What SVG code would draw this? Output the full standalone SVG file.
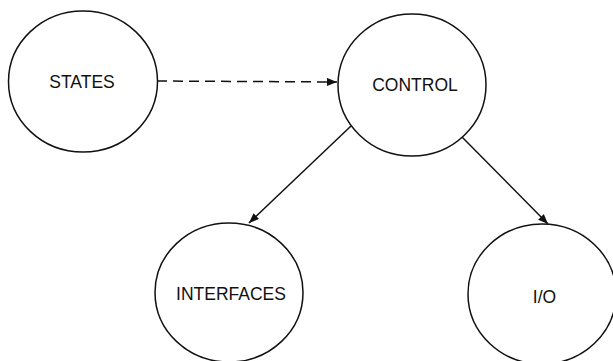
<svg xmlns="http://www.w3.org/2000/svg" width="613" height="361" viewBox="0 0 613 361">
  <style>
    .node ellipse { fill: #fff; stroke: #111; stroke-width: 1.5; }
    .node text { font-family: "Liberation Sans", Arial, sans-serif; font-size: 17.5px; fill: #111; text-anchor: middle; }
    .edge { fill: none; stroke: #111; stroke-width: 1.5; }
    .dashed { stroke-dasharray: 10 6; }
  </style>
  <defs>
    <marker id="arrow" viewBox="0 0 10 8" refX="10" refY="4" markerWidth="10" markerHeight="8" markerUnits="userSpaceOnUse" orient="auto">
      <path d="M0,0 L10,4 L0,8 Z" fill="#111"/>
    </marker>
  </defs>
  <rect width="613" height="361" fill="#fff"/>

  <g id="connectors">
    <line class="edge" x1="157" y1="76" x2="157" y2="86"/>
    <path class="edge dashed" d="M157,81 L337,82" marker-end="url(#arrow)"/>
    <path class="edge" d="M351,126 L249,223" marker-end="url(#arrow)"/>
    <path class="edge" d="M462,137 L548,224" marker-end="url(#arrow)"/>
  </g>

  <g id="states" class="node">
    <ellipse cx="83" cy="81.5" rx="74.5" ry="70.5"/>
    <text x="82" y="88">STATES</text>
  </g>
  <g id="control" class="node">
    <ellipse cx="412" cy="85" rx="74" ry="71"/>
    <text x="415" y="91">CONTROL</text>
  </g>
  <g id="interfaces" class="node">
    <ellipse cx="229" cy="292.5" rx="74" ry="69.5"/>
    <text x="231" y="300">INTERFACES</text>
  </g>
  <g id="io" class="node">
    <ellipse cx="542" cy="294" rx="74" ry="70"/>
    <text x="544.5" y="303">I/O</text>
  </g>
</svg>
